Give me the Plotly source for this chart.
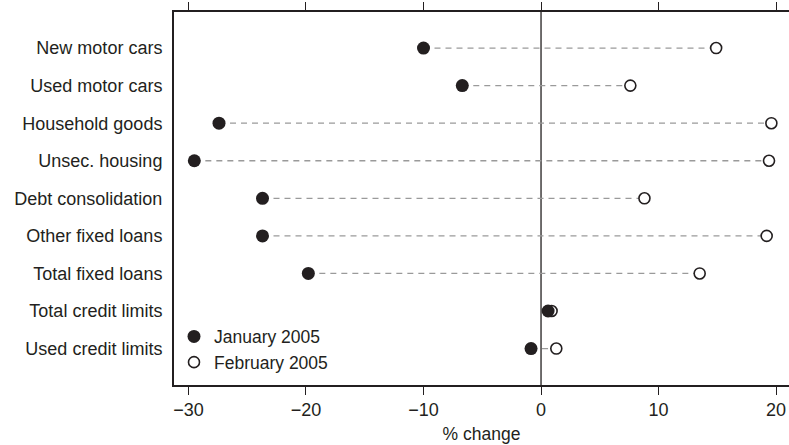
import plotly.graph_objects as go

categories = [
    "New motor cars",
    "Used motor cars",
    "Household goods",
    "Unsec. housing",
    "Debt consolidation",
    "Other fixed loans",
    "Total fixed loans",
    "Total credit limits",
    "Used credit limits",
]
jan_2005 = [-10.0, -6.7, -27.4, -29.5, -23.7, -23.7, -19.8, 0.6, -0.85]
feb_2005 = [14.9, 7.6, 19.6, 19.4, 8.8, 19.2, 13.5, 0.9, 1.3]

FONT = "Liberation Sans"
INK = "#231f20"

# dashed connectors, one segment per row
seg_x, seg_y = [], []
for cat, a, b in zip(categories, jan_2005, feb_2005):
    seg_x += [a, b, None]
    seg_y += [cat, cat, None]

fig = go.Figure()
fig.add_trace(
    go.Scatter(
        x=seg_x, y=seg_y, mode="lines",
        line=dict(color="#9a9a9a", width=1.3, dash="6px,5px"),
        showlegend=False, hoverinfo="skip",
    )
)
# February first so the filled January dots sit on top where they overlap
fig.add_trace(
    go.Scatter(
        x=feb_2005, y=categories, mode="markers", name="February 2005",
        marker=dict(symbol="circle", size=11, color="white",
                    line=dict(color=INK, width=1.6)),
    )
)
fig.add_trace(
    go.Scatter(
        x=jan_2005, y=categories, mode="markers", name="January 2005",
        marker=dict(symbol="circle", size=13, color=INK, line=dict(width=0)),
    )
)
fig.add_vline(x=0, line_color=INK, line_width=1.3, layer="below")

fig.update_layout(
    width=789, height=445,
    margin=dict(l=174, r=0, t=12, b=60),
    paper_bgcolor="white", plot_bgcolor="white",
    font=dict(family=FONT, size=18, color=INK),
    showlegend=True,
    legend=dict(
        x=0.0, y=0.012, xanchor="left", yanchor="bottom",
        bgcolor="rgba(0,0,0,0)", font=dict(size=17.5),
        itemwidth=30, tracegroupgap=0, traceorder="reversed",
    ),
    xaxis=dict(
        range=[-31.23, 21.1],
        tickvals=[-30, -20, -10, 0, 10, 20],
        ticktext=["\u221230", "\u221220", "\u221210", "0", "10", "20"],
        ticks="outside", ticklen=8, tickwidth=1.3, tickcolor=INK,
        showline=True, linecolor=INK, linewidth=1.5, mirror="ticks",
        showgrid=False, zeroline=False, automargin=False,
        title=dict(text="% change", standoff=8, font=dict(size=17.5)),
    ),
    yaxis=dict(
        type="category", categoryorder="array", categoryarray=categories,
        range=[8.97, -0.96], automargin=False,
        showline=True, linecolor=INK, linewidth=2,
        showgrid=False, zeroline=False, ticks="", ticklabelstandoff=6,
    ),
)

fig.write_html(
    "out.html",
    config={"displayModeBar": False},
    post_script="document.body.style.margin='0';",
)
